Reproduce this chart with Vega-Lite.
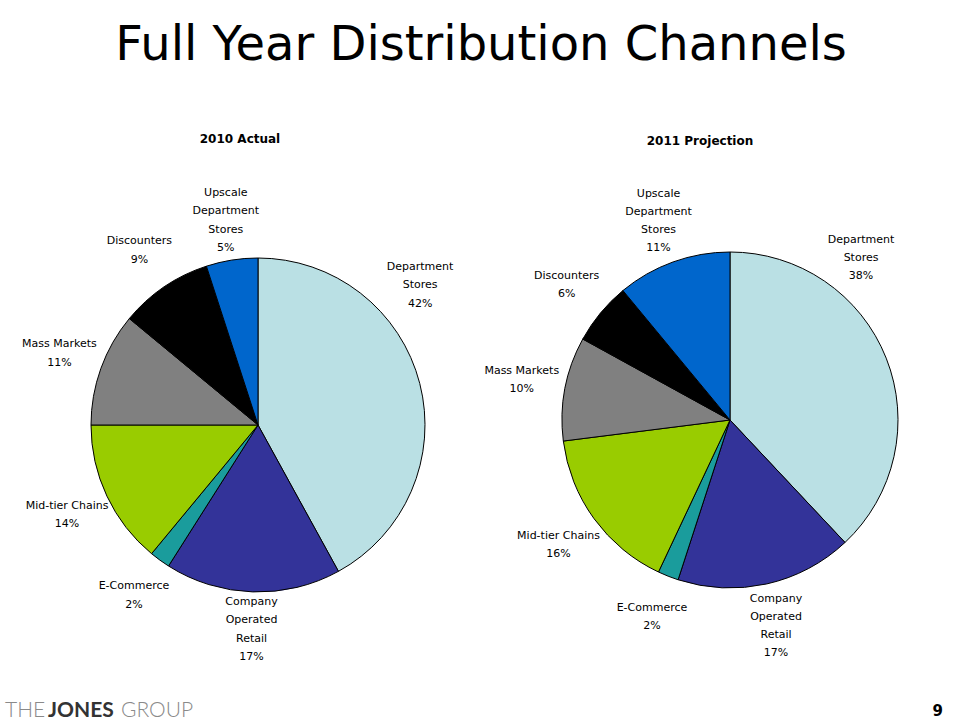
{
  "$schema": "https://vega.github.io/schema/vega-lite/v6.json",
  "padding": {"top": 22, "left": 0, "right": 0, "bottom": 0},
  "background": "white",
  "title": {"text": "Full Year Distribution Channels", "fontSize": 48, "font": "DejaVu Sans", "fontWeight": "normal", "color": "black", "anchor": "middle", "offset": 63, "dx": 9},
  "datasets": {
    "y2010": [
      {"channel": "Department Stores", "label": "Department\nStores\n42%", "share": 42},
      {"channel": "Company Operated Retail", "label": "Company\nOperated\nRetail\n17%", "share": 17},
      {"channel": "E-Commerce", "label": "E-Commerce\n2%", "share": 2},
      {"channel": "Mid-tier Chains", "label": "Mid-tier Chains\n14%", "share": 14},
      {"channel": "Mass Markets", "label": "Mass Markets\n11%", "share": 11},
      {"channel": "Discounters", "label": "Discounters\n9%", "share": 9},
      {"channel": "Upscale Department Stores", "label": "Upscale\nDepartment\nStores\n5%", "share": 5}
    ],
    "y2011": [
      {"channel": "Department Stores", "label": "Department\nStores\n38%", "share": 38},
      {"channel": "Company Operated Retail", "label": "Company\nOperated\nRetail\n17%", "share": 17},
      {"channel": "E-Commerce", "label": "E-Commerce\n2%", "share": 2},
      {"channel": "Mid-tier Chains", "label": "Mid-tier Chains\n16%", "share": 16},
      {"channel": "Mass Markets", "label": "Mass Markets\n10%", "share": 10},
      {"channel": "Discounters", "label": "Discounters\n6%", "share": 6},
      {"channel": "Upscale Department Stores", "label": "Upscale\nDepartment\nStores\n11%", "share": 11}
    ]
  },
  "spacing": 0,
  "vconcat": [
    {
      "spacing": 0,
      "bounds": "flush",
      "hconcat": [
        {
          "width": 516, "height": 550,
          "title": {"text": "2010 Actual", "dx": -18, "fontSize": 12, "font": "DejaVu Sans", "fontWeight": "bold", "color": "black", "offset": 4},
          "data": {"name": "y2010"},
          "transform": [{"window": [{"op": "row_number", "as": "o"}]}],
          "encoding": {
            "theta": {"field": "share", "type": "quantitative", "stack": true},
            "order": {"field": "o", "type": "quantitative"}
          },
          "layer": [
            {
              "mark": {"type": "arc", "outerRadius": 167, "stroke": "black", "strokeWidth": 1},
              "encoding": {
                "color": {"field": "channel", "type": "nominal", "legend": null,
                  "scale": {"domain": ["Department Stores", "Company Operated Retail", "E-Commerce", "Mid-tier Chains", "Mass Markets", "Discounters", "Upscale Department Stores"],
                            "range": ["#BAE0E4", "#333399", "#1A9C9C", "#99CC00", "#808080", "#000000", "#0066CC"]}}
              }
            },
            {
              "mark": {"type": "text", "radius": 211, "dy": -9.25, "lineBreak": "\n", "lineHeight": 18.5, "font": "DejaVu Sans", "fontSize": 11, "color": "black", "align": "center", "baseline": "middle"},
              "encoding": {"text": {"condition": {"test": "indexof(['E-Commerce','Mid-tier Chains','Mass Markets','Discounters'], datum.channel) >= 0", "field": "label", "type": "nominal"}, "value": ""}}
            },
            {
              "mark": {"type": "text", "radius": 206, "dy": -29, "lineBreak": "\n", "lineHeight": 18.5, "font": "DejaVu Sans", "fontSize": 11, "color": "black", "align": "center", "baseline": "middle"},
              "encoding": {"text": {"condition": {"test": "indexof(['Company Operated Retail','Upscale Department Stores'], datum.channel) >= 0", "field": "label", "type": "nominal"}, "value": ""}}
            },
            {
              "mark": {"type": "text", "radius": 214, "thetaOffset": -0.46, "dy": -18.5, "lineBreak": "\n", "lineHeight": 18.5, "font": "DejaVu Sans", "fontSize": 11, "color": "black", "align": "center", "baseline": "middle"},
              "encoding": {"text": {"condition": {"test": "datum.channel == 'Department Stores'", "field": "label", "type": "nominal"}, "value": ""}}
            }
          ]
        },
        {
          "width": 428, "height": 540,
          "title": {"text": "2011 Projection", "dx": -30, "fontSize": 12, "font": "DejaVu Sans", "fontWeight": "bold", "color": "black", "offset": 2},
          "data": {"name": "y2011"},
          "transform": [{"window": [{"op": "row_number", "as": "o"}]}],
          "encoding": {
            "theta": {"field": "share", "type": "quantitative", "stack": true},
            "order": {"field": "o", "type": "quantitative"}
          },
          "layer": [
            {
              "mark": {"type": "arc", "outerRadius": 168, "stroke": "black", "strokeWidth": 1},
              "encoding": {
                "color": {"field": "channel", "type": "nominal", "legend": null,
                  "scale": {"domain": ["Department Stores", "Company Operated Retail", "E-Commerce", "Mid-tier Chains", "Mass Markets", "Discounters", "Upscale Department Stores"],
                            "range": ["#BAE0E4", "#333399", "#1A9C9C", "#99CC00", "#808080", "#000000", "#0066CC"]}}
              }
            },
            {
              "mark": {"type": "text", "radius": 212, "dy": -9, "lineBreak": "\n", "lineHeight": 18, "font": "DejaVu Sans", "fontSize": 11, "color": "black", "align": "center", "baseline": "middle"},
              "encoding": {"text": {"condition": {"test": "indexof(['E-Commerce','Mid-tier Chains','Mass Markets','Discounters'], datum.channel) >= 0", "field": "label", "type": "nominal"}, "value": ""}}
            },
            {
              "mark": {"type": "text", "radius": 211, "dy": -27, "lineBreak": "\n", "lineHeight": 18, "font": "DejaVu Sans", "fontSize": 11, "color": "black", "align": "center", "baseline": "middle"},
              "encoding": {"text": {"condition": {"test": "indexof(['Company Operated Retail','Upscale Department Stores'], datum.channel) >= 0", "field": "label", "type": "nominal"}, "value": ""}}
            },
            {
              "mark": {"type": "text", "radius": 210, "thetaOffset": -0.52, "dy": -16, "lineBreak": "\n", "lineHeight": 18, "font": "DejaVu Sans", "fontSize": 11, "color": "black", "align": "center", "baseline": "middle"},
              "encoding": {"text": {"condition": {"test": "datum.channel == 'Department Stores'", "field": "label", "type": "nominal"}, "value": ""}}
            }
          ]
        }
      ]
    },
    {
      "width": 944, "height": 14,
      "data": {"values": [{"a": 1}]},
      "layer": [
        {"mark": {"type": "text", "text": "THE", "align": "left", "baseline": "middle", "font": "Lato", "fontWeight": 300, "fontSize": 21, "color": "#8a8a8a", "dx": 5}, "encoding": {"x": {"value": 0}, "y": {"value": 4}}},
        {"mark": {"type": "text", "text": "JONES", "align": "left", "baseline": "middle", "font": "Lato", "fontWeight": "bold", "fontSize": 21, "color": "#333333", "dx": 48}, "encoding": {"x": {"value": 0}, "y": {"value": 4}}},
        {"mark": {"type": "text", "text": "GROUP", "align": "left", "baseline": "middle", "font": "Lato", "fontWeight": 300, "fontSize": 21, "color": "#8a8a8a", "dx": 121}, "encoding": {"x": {"value": 0}, "y": {"value": 4}}},
        {"mark": {"type": "text", "text": "9", "align": "right", "baseline": "middle", "font": "DejaVu Sans", "fontWeight": "bold", "fontSize": 15, "color": "black", "dx": -1}, "encoding": {"x": {"value": "width"}, "y": {"value": 4}}}
      ]
    }
  ],
  "config": {"view": {"stroke": null}}
}
